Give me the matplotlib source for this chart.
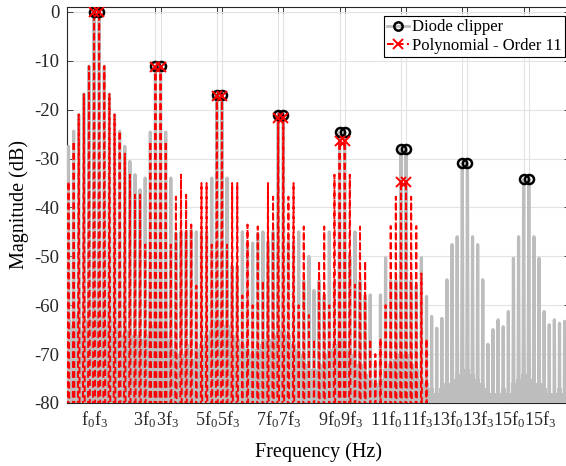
import numpy as np
import matplotlib
matplotlib.use("Agg")
import matplotlib.pyplot as plt
import matplotlib.transforms as mtransforms
from matplotlib.lines import Line2D

plt.rcParams["font.family"] = "Liberation Serif"
plt.rcParams["mathtext.fontset"] = "custom"
plt.rcParams["mathtext.rm"] = "Liberation Serif"
plt.rcParams["mathtext.it"] = "Liberation Serif:italic"

# frequency axis in bins of the two-tone spacing (f3 - f0)
bins = np.arange(1, 99)
f0_bin = 6
df_bin = 1
harmonics = [1, 3, 5, 7, 9, 11, 13, 15]
poly_max_harm = 11

# diode clipper spectrum peaks (dB), one per bin
diode_db = [
    -27.5, -24.4, -21.0, -16.8, -11.1, 0.0, 0.0, -11.1, -16.8, -21.0, -24.4, -27.5, -30.6, -33.3,
    -36.4, -34.0, -24.6, -11.1, -11.1, -24.6, -34.0, -45.3, -45.0, -45.0, -44.6, -45.0, -45.0, -45.0,
    -34.0, -16.9, -16.9, -34.0, -52.0, -52.0, -45.0, -47.0, -47.3, -45.3, -45.0, -47.0, -45.0,
    -21.0, -21.0, -47.0, -47.0, -45.0, -55.0, -50.0, -57.0, -55.0, -58.0, -45.0, -55.0, -24.6,
    -24.6, -50.0, -45.0, -55.0, -58.0, -57.9, -72.0, -57.9, -50.3, -55.0, -55.0, -28.0, -28.0,
    -55.0, -56.0, -50.3, -58.2, -62.3, -64.7, -62.7, -54.8, -47.6, -46.0, -30.9, -30.9,
    -46.0, -47.6, -54.8, -68.0, -65.0, -63.0, -64.4, -61.3, -50.4, -46.0, -34.2, -34.2,
    -46.0, -50.4, -61.3, -64.0, -63.0, -63.7, -63.3,
]

# level below which the diode spectrum is filled by leakage (dB)
diode_floor_db = [
    -63, -64, -62, -65, -63, -62, -62, -64, -63, -65, -64, -66, -65, -66,
    -67, -66, -64, -64, -64, -65, -67, -69, -70, -68, -71, -69, -68, -66,
    -65, -63, -63, -64, -66, -67, -68, -69, -70, -69, -68, -67, -66,
    -65, -65, -66, -68, -69, -70, -72, -73, -72, -70, -69, -68, -67,
    -67, -69, -70, -72, -74, -75, -76, -75, -73, -72, -71, -70, -70,
    -72, -73, -75, -76, -77, -78, -77, -76, -75, -74, -73, -73,
    -74, -75, -76, -77, -78, -78, -77, -78, -76, -75, -74, -74, -75, -76, -77, -78, -78, -77, -78,
]

# polynomial (order 11) spectrum peaks (dB), bins 1..71
poly_db = [
    -34.7, -26.5, -21.0, -16.8, -11.1, 0.0, 0.0, -11.1, -16.8, -21.0, -24.4, -29.0, -33.3, -37.4,
    -37.4, -47.6, -26.5, -11.3, -11.3, -26.5, -47.6, -37.8, -33.3, -37.4, -43.5, -56.0, -35.0, -35.0,
    -47.6, -17.2, -17.2, -47.6, -35.0, -35.0, -58.0, -43.5, -60.0, -43.9, -55.0, -35.0, -37.8,
    -21.8, -21.8, -37.8, -35.0, -60.0, -43.9, -62.0, -67.0, -51.0, -43.9, -60.0, -33.3, -26.5,
    -26.5, -33.3, -55.8, -43.9, -51.0, -67.0, -70.0, -66.8, -60.0, -43.8, -37.8, -34.7, -34.7,
    -37.8, -43.8, -53.5, -66.9,
]


def spike_path(x, y, base=-200.0):
    x = np.asarray(x, dtype=float)
    y = np.asarray(y, dtype=float)
    b = np.full_like(y, base)
    xs = np.column_stack([x - 0.5, x, x + 0.5]).ravel()
    ys = np.column_stack([b, y, b]).ravel()
    return xs, ys


gray = "#bdbdbd"
red = "#ff0000"

fig = plt.figure(figsize=(5.66, 4.66), dpi=100)
ax = fig.add_axes([0.1175, 0.1352, 0.8896, 0.8498])

# diode clipper
ax.fill_between(bins, -80, diode_floor_db, step="mid", color=gray, lw=0, zorder=2)
xs, ys = spike_path(bins, diode_db)
ax.plot(xs, ys, color=gray, lw=2.3, zorder=3)

# polynomial
poly_bins = bins[:len(poly_db)]
xs, ys = spike_path(poly_bins, poly_db)
ax.plot(xs, ys, color=red, lw=1.4, linestyle=(0, (3.4, 1.7)), zorder=4)

# harmonic markers
peak_bins = [n * f0_bin + d for n in harmonics for d in (0, df_bin)]
ax.plot(peak_bins, [diode_db[b - 1] for b in peak_bins], "o", ms=6.5, mfc="none",
        mec="black", mew=1.8, zorder=5)
poly_peaks = [b for b in peak_bins if b <= poly_max_harm * f0_bin + df_bin]
ax.plot(poly_peaks, [poly_db[b - 1] for b in poly_peaks], "x", ms=7, mec=red,
        mew=1.4, zorder=6)

ax.set_xlim(0.61, 99.06)
ax.set_ylim(-80, 1.0)

labels = []
for n in harmonics:
    pre = "" if n == 1 else str(n)
    labels += [r"$\mathrm{%sf}_0$" % pre, r"$\mathrm{%sf}_3$" % pre]
ax.set_xticks(peak_bins)
ax.set_xticklabels([])
ax.set_yticks(np.arange(-80, 1, 10))
ax.set_yticklabels([str(v) for v in np.arange(-80, 1, 10)], fontsize=13.5)

# the f0 / f3 labels of a pair sit side by side, meeting between the two ticks
for i, (b, lab) in enumerate(zip(peak_bins, labels)):
    if i % 2 == 0:
        ha, dx = "right", 1.0
    else:
        ha, dx = "left", -5.0
    tr = ax.get_xaxis_transform() + mtransforms.ScaledTranslation(
        dx / 100, -6 / 100, fig.dpi_scale_trans)
    ax.text(b, 0, lab, transform=tr, ha=ha, va="top", fontsize=13, color="#262626")

ax.tick_params(direction="in", length=4, width=0.6, top=True, right=True,
               colors="#262626", pad=5)
ax.grid(True, color="#e3e3e3", lw=0.8)
ax.set_axisbelow(True)
for s in ax.spines.values():
    s.set_color("#262626")
    s.set_linewidth(0.8)

ax.set_xlabel("Frequency (Hz)", fontsize=14.5)
ax.xaxis.set_label_coords(0.5, -0.098)
ax.set_ylabel("Magnitude (dB)", fontsize=14.5)
ax.yaxis.set_label_coords(-0.074, 0.5)

handles = [
    Line2D([], [], color=gray, lw=2.0, marker="o", ms=6, mfc="none", mec="black", mew=1.8),
    Line2D([], [], color=red, lw=1.4, linestyle=(0, (3.4, 1.7)), marker="x", ms=7,
           mec=red, mew=1.4),
]
leg = ax.legend(handles, ["Diode clipper", "Polynomial - Order 11"], loc="upper right",
                bbox_to_anchor=(565 / 566, 1 - 16 / 466), bbox_transform=fig.transFigure,
                borderaxespad=0, fontsize=12, fancybox=False, framealpha=1,
                edgecolor="black", handlelength=1.3, handletextpad=0.2,
                labelspacing=0.15, borderpad=0.2)
leg.get_frame().set_linewidth(0.8)
leg.set_zorder(10)

fig.savefig("out.png", dpi=100)
